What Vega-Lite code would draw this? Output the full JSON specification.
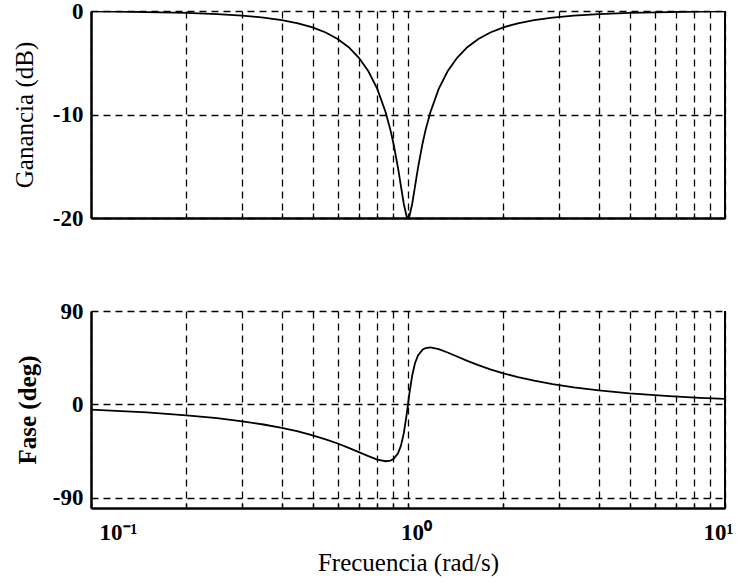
{
  "$schema": "https://vega.github.io/schema/vega-lite/v6.json",
  "padding": {"left": 12, "top": 0, "right": 5, "bottom": 5},
  "background": "white",
  "datasets": {
    "bode": [
      {"w": 0.1, "gain": -0.044, "phase": -5.19},
      {"w": 0.12, "gain": -0.063, "phase": -6.24},
      {"w": 0.15, "gain": -0.100, "phase": -7.85},
      {"w": 0.2, "gain": -0.183, "phase": -10.57},
      {"w": 0.25, "gain": -0.295, "phase": -13.40},
      {"w": 0.3, "gain": -0.443, "phase": -16.36},
      {"w": 0.35, "gain": -0.634, "phase": -19.47},
      {"w": 0.4, "gain": -0.878, "phase": -22.74},
      {"w": 0.45, "gain": -1.187, "phase": -26.20},
      {"w": 0.5, "gain": -1.578, "phase": -29.88},
      {"w": 0.55, "gain": -2.073, "phase": -33.75},
      {"w": 0.6, "gain": -2.701, "phase": -37.80},
      {"w": 0.65, "gain": -3.500, "phase": -41.96},
      {"w": 0.7, "gain": -4.519, "phase": -46.10},
      {"w": 0.75, "gain": -5.828, "phase": -50.01},
      {"w": 0.8, "gain": -7.527, "phase": -53.24},
      {"w": 0.85, "gain": -9.773, "phase": -54.89},
      {"w": 0.88, "gain": -11.484, "phase": -54.31},
      {"w": 0.9, "gain": -12.820, "phase": -52.73},
      {"w": 0.93, "gain": -15.163, "phase": -47.19},
      {"w": 0.95, "gain": -16.921, "phase": -39.88},
      {"w": 0.97, "gain": -18.645, "phase": -27.86},
      {"w": 0.99, "gain": -19.830, "phase": -10.22},
      {"w": 1.0, "gain": -20.0, "phase": 0.0},
      {"w": 1.0101, "gain": -19.830, "phase": 10.22},
      {"w": 1.0309, "gain": -18.645, "phase": 27.86},
      {"w": 1.0526, "gain": -16.921, "phase": 39.88},
      {"w": 1.0753, "gain": -15.163, "phase": 47.19},
      {"w": 1.1111, "gain": -12.820, "phase": 52.73},
      {"w": 1.1364, "gain": -11.484, "phase": 54.31},
      {"w": 1.1765, "gain": -9.773, "phase": 54.89},
      {"w": 1.25, "gain": -7.527, "phase": 53.24},
      {"w": 1.3333, "gain": -5.828, "phase": 50.01},
      {"w": 1.4286, "gain": -4.519, "phase": 46.10},
      {"w": 1.5385, "gain": -3.500, "phase": 41.96},
      {"w": 1.6667, "gain": -2.701, "phase": 37.80},
      {"w": 1.8182, "gain": -2.073, "phase": 33.75},
      {"w": 2.0, "gain": -1.578, "phase": 29.88},
      {"w": 2.2222, "gain": -1.187, "phase": 26.20},
      {"w": 2.5, "gain": -0.878, "phase": 22.74},
      {"w": 2.8571, "gain": -0.634, "phase": 19.47},
      {"w": 3.3333, "gain": -0.443, "phase": 16.36},
      {"w": 4.0, "gain": -0.295, "phase": 13.40},
      {"w": 5.0, "gain": -0.183, "phase": 10.57},
      {"w": 6.6667, "gain": -0.100, "phase": 7.85},
      {"w": 8.3333, "gain": -0.063, "phase": 6.24},
      {"w": 10.0, "gain": -0.044, "phase": 5.19}
    ],
    "edge": [{"w": 10}]
  },
  "config": {
    "view": {"stroke": null},
    "axis": {
      "domainColor": "black",
      "domainWidth": 2.5,
      "gridColor": "black",
      "gridDash": [7, 5],
      "gridWidth": 1.3,
      "gridOpacity": 1,
      "tickColor": "black",
      "labelFont": "Liberation Serif",
      "labelFontSize": 23,
      "labelFontWeight": "bold",
      "labelColor": "black",
      "titleFont": "Liberation Serif",
      "titleFontSize": 25,
      "titleFontWeight": "normal",
      "titleColor": "black",
      "labelOverlap": false
    }
  },
  "bounds": "flush",
  "spacing": 93,
  "vconcat": [
    {
      "width": 634,
      "height": 207,
      "layer": [
        {
          "data": {"name": "bode"},
          "mark": {"type": "line", "color": "black", "strokeWidth": 1.8, "clip": true},
          "encoding": {
            "x": {
              "field": "w", "type": "quantitative",
              "scale": {"type": "log", "domain": [0.1, 10], "nice": false},
              "axis": {
                "title": null, "labels": false, "tickSize": -5, "tickWidth": 1.3,
                "values": [0.1, 0.2, 0.3, 0.4, 0.5, 0.6, 0.7, 0.8, 0.9, 1, 2, 3, 4, 5, 6, 7, 8, 9, 10]
              }
            },
            "y": {
              "field": "gain", "type": "quantitative",
              "scale": {"domain": [-20, 0], "nice": false, "zero": false},
              "axis": {
                "title": "Ganancia (dB)", "values": [-20, -10, 0], "ticks": false,
                "labelExpr": "'' + datum.value",
                "labelPadding": 8, "titlePadding": 15
              }
            }
          }
        },
        {
          "data": {"name": "edge"},
          "mark": {"type": "rule", "color": "black", "strokeWidth": 2},
          "encoding": {"x": {"field": "w", "type": "quantitative"}}
        }
      ]
    },
    {
      "width": 634,
      "height": 197,
      "layer": [
        {
          "data": {"name": "bode"},
          "mark": {"type": "line", "color": "black", "strokeWidth": 1.8, "clip": true},
          "encoding": {
            "x": {
              "field": "w", "type": "quantitative",
              "scale": {"type": "log", "domain": [0.1, 10], "nice": false},
              "axis": {
                "title": "Frecuencia (rad/s)", "tickSize": -5, "tickWidth": 1.3,
                "values": [0.1, 0.2, 0.3, 0.4, 0.5, 0.6, 0.7, 0.8, 0.9, 1, 2, 3, 4, 5, 6, 7, 8, 9, 10],
                "labelExpr": "datum.value == 0.1 ? '10⁻¹' : (datum.value == 1 ? '10⁰' : (datum.value == 10 ? '10¹' : ''))",
                "labelOffset": 8, "labelPadding": 18, "titlePadding": 6
              }
            },
            "y": {
              "field": "phase", "type": "quantitative",
              "scale": {"domain": [-100, 90], "nice": false, "zero": false},
              "axis": {
                "title": "Fase (deg)", "values": [-90, 0, 90], "ticks": false,
                "labelExpr": "'' + datum.value",
                "labelPadding": 8, "titlePadding": 12, "titleFontWeight": "bold"
              }
            }
          }
        },
        {
          "data": {"name": "edge"},
          "mark": {"type": "rule", "color": "black", "strokeWidth": 2},
          "encoding": {"x": {"field": "w", "type": "quantitative"}}
        }
      ]
    }
  ]
}
